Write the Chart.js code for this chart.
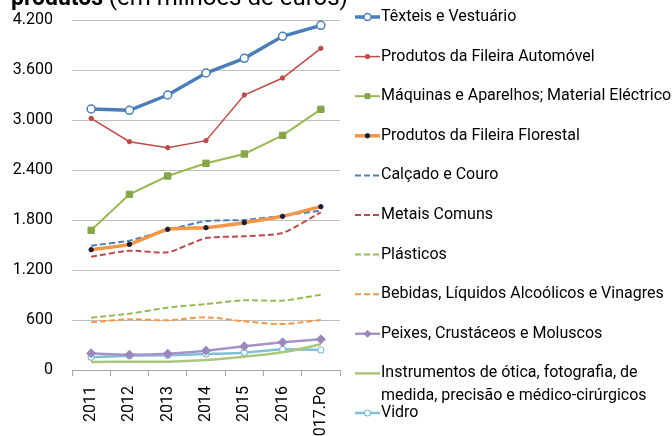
<!DOCTYPE html>
<html>
<head>
<meta charset="utf-8">
<script src="https://cdn.jsdelivr.net/npm/chart.js@4"></script>
<style>
  html, body { margin: 0; padding: 0; background: #fff; }
  #wrap { width: 672px; height: 436px; }
</style>
</head>
<body>
<div id="wrap"><canvas id="exp"></canvas></div>
<script>
// categories and tick labels
var years = ["2011", "2012", "2013", "2014", "2015", "2016", "2017.Po"];
var yTicks = [0, 600, 1200, 1800, 2400, 3000, 3600, 4200];

// series values (milhões de euros)
var texteis      = [3132, 3116, 3300, 3564, 3740, 4004, 4136];
var automovel    = [3020, 2740, 2668, 2752, 3300, 3504, 3860];
var maquinas     = [1676, 2108, 2328, 2480, 2592, 2816, 3128];
var florestal    = [1444, 1508, 1688, 1708, 1768, 1844, 1960];
var calcado      = [1492, 1552, 1680, 1788, 1800, 1852, 1912];
var metais       = [1360, 1432, 1412, 1584, 1604, 1644, 1892];
var plasticos    = [628, 676, 748, 792, 836, 832, 904];
var bebidas      = [572, 608, 596, 632, 584, 552, 600];
var peixes       = [200, 184, 196, 232, 284, 332, 368];
var instrumentos = [96, 100, 100, 120, 160, 212, 308];
var vidro        = [152, 172, 176, 192, 208, 248, 240];

var FONT = "Roboto, 'Liberation Sans', sans-serif";

function line(label, data, color, width, extra) {
    var ds = {
        label: label,
        data: data,
        borderColor: color,
        backgroundColor: color,
        borderWidth: width,
        pointRadius: 0,
        pointHoverRadius: 0,
        tension: 0,
        fill: false
    };
    for (var k in extra) ds[k] = extra[k];
    return ds;
}

var datasets = [
    line("Têxteis e Vestuário", texteis, "#4a7ebb", 3.5,
        {pointStyle: "circle", pointRadius: 4, pointBackgroundColor: "#fff", pointBorderColor: "#4a7ebb", pointBorderWidth: 1.5}),
    line("Produtos da Fileira Automóvel", automovel, "#be4b48", 1.5,
        {pointStyle: "circle", pointRadius: 2.2, pointBackgroundColor: "#be4b48", pointBorderColor: "#be4b48", pointBorderWidth: 1}),
    line("Máquinas e Aparelhos; Material Eléctrico", maquinas, "#98b954", 2,
        {pointStyle: "rect", pointRadius: 4.5, pointBackgroundColor: "#86a64a", pointBorderColor: "#86a64a", pointBorderWidth: 1}),
    line("Produtos da Fileira Florestal", florestal, "#f79646", 3.5,
        {pointStyle: "circle", pointRadius: 2.2, pointBackgroundColor: "#1a1a35", pointBorderColor: "#1a1a35", pointBorderWidth: 1, tension: 0.15}),
    line("Calçado e Couro", calcado, "#4a7ebb", 2, {borderDash: [6, 3], tension: 0.15}),
    line("Metais Comuns", metais, "#be4b48", 2, {borderDash: [6, 3], tension: 0.2}),
    line("Plásticos", plasticos, "#98b954", 2, {borderDash: [6, 3], tension: 0.25}),
    line("Bebidas, Líquidos Alcoólicos e Vinagres", bebidas, "#f79646", 2, {borderDash: [6, 3], tension: 0.3}),
    line("Peixes, Crustáceos e Moluscos", peixes, "#a595c6", 2.5,
        {pointStyle: "rectRot", pointRadius: 4.5, pointBackgroundColor: "#9c88bc", pointBorderColor: "#9c88bc", pointBorderWidth: 1, tension: 0.15}),
    line(["Instrumentos de ótica, fotografia, de", "medida, precisão e médico-cirúrgicos"], instrumentos, "#abc67f", 2.5, {tension: 0.3}),
    line("Vidro", vidro, "#80c0d6", 2.5,
        {pointStyle: "circle", pointRadius: 3, pointBackgroundColor: "#fff", pointBorderColor: "#80c0d6", pointBorderWidth: 1.2, tension: 0.15})
];

// legend + clipped title line drawn by hand
var sideLegend = {
    id: "sideLegend",
    afterDraw: function(chart) {
        var ctx = chart.ctx;
        ctx.save();
        // title (only its last line shows in the picture)
        ctx.textBaseline = "alphabetic";
        ctx.fillStyle = "#000";
        ctx.font = "bold 23px " + FONT;
        var part1 = "produtos ";
        ctx.fillText(part1, 11, 5);
        var w1 = ctx.measureText(part1).width;
        ctx.font = "24px " + FONT;
        ctx.fillText("(em milhões de euros)", 11 + w1, 5);

        var x0 = 355, x1 = 380, y = 17, step = 39.6;
        chart.data.datasets.forEach(function(ds, i) {
            var yy = y + i * step;
            ctx.save();
            ctx.strokeStyle = ds.borderColor;
            ctx.lineWidth = ds.borderWidth;
            ctx.setLineDash(ds.borderDash || []);
            ctx.beginPath();
            ctx.moveTo(x0, yy);
            ctx.lineTo(x1, yy);
            ctx.stroke();
            ctx.setLineDash([]);
            if (ds.pointRadius > 0) {
                ctx.fillStyle = ds.pointBackgroundColor;
                ctx.strokeStyle = ds.pointBorderColor;
                ctx.lineWidth = ds.pointBorderWidth;
                Chart.helpers.drawPoint(ctx, {
                    pointStyle: ds.pointStyle,
                    radius: Math.min(ds.pointRadius, 3.5),
                    borderWidth: ds.pointBorderWidth,
                    rotation: 0
                }, (x0 + x1) / 2, yy);
            }
            ctx.restore();
            ctx.fillStyle = "#000";
            ctx.font = "16px " + FONT;
            ctx.textBaseline = "middle";
            var lines = Array.isArray(ds.label) ? ds.label : [ds.label];
            lines.forEach(function(t, j) {
                ctx.fillText(t, x1 + 1, yy + j * 23);
            });
        });
        ctx.restore();
    }
};

new Chart(document.getElementById("exp"), {
    type: "line",
    data: { labels: years, datasets: datasets },
    options: {
        responsive: true,
        maintainAspectRatio: false,
        animation: false,
        layout: { padding: { top: 20, right: 332, left: 0, bottom: 0 } },
        plugins: {
            legend: { display: false },
            tooltip: { enabled: false }
        },
        scales: {
            x: {
                offset: true,
                afterFit: function(s) { s.height = 66; },
                grid: { display: true, drawOnChartArea: false, drawTicks: true, tickLength: 6, color: "#a6a6a6", offset: true },
                border: { display: true, color: "#a6a6a6" },
                ticks: {
                    autoSkip: false, minRotation: 90, maxRotation: 90, padding: 10,
                    color: "#000", font: { family: FONT, size: 16 }
                }
            },
            y: {
                min: 0, max: 4200,
                afterFit: function(s) { s.width = 72; s.paddingTop = 0; s.paddingBottom = 0; },
                afterBuildTicks: function(s) { s.ticks = yTicks.map(function(v) { return {value: v}; }); },
                grid: { color: "#bfbfbf", drawTicks: false, lineWidth: 1 },
                border: { display: false },
                ticks: {
                    padding: 19, color: "#000", font: { family: FONT, size: 16 },
                    callback: function(v) { return v.toLocaleString("de-DE"); }
                }
            }
        }
    },
    plugins: [sideLegend]
});
</script>
</body>
</html>
